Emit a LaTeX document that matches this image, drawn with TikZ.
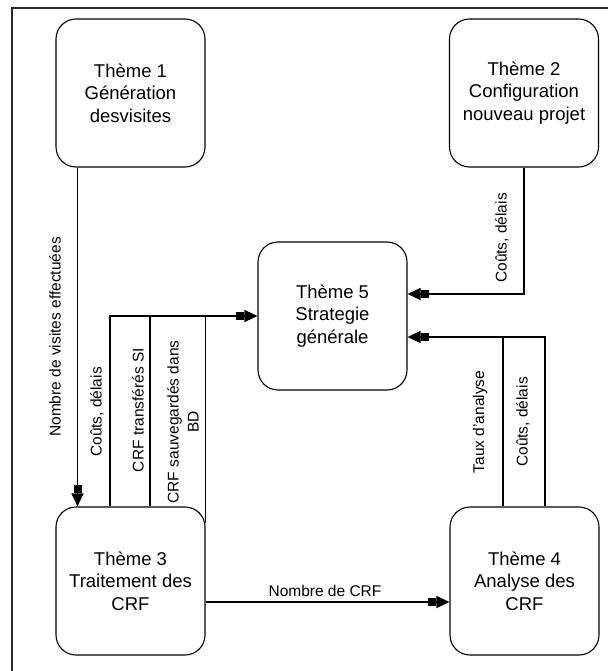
\documentclass[tikz,border=0pt]{standalone}
\usepackage{fontspec}
\setmainfont{Liberation Sans}
\usetikzlibrary{arrows.meta}
\begin{document}
\begin{tikzpicture}[x=1pt,y=-1pt,
  theme/.style={draw,line width=1.1pt,rounded corners=20pt,minimum width=149pt,minimum height=148pt,
    inner sep=0pt,align=center,font=\fontsize{18.5}{22.5}\selectfont},
  flow/.style={line width=1.1pt},
  arr/.style={flow,-{Rectangle[length=8pt,width=8pt,sep=0pt]Triangle[length=13pt,width=12pt]}},
  lbl/.style={inner sep=0pt,align=center,font=\fontsize{15.5}{20}\selectfont},
  vlbl/.style={lbl,rotate=90}]
\useasboundingbox (0,0) rectangle (608,671);
\fill[white] (0,0) rectangle (608,671);
% outer frame
\draw[line width=1.2pt,black!85] (12,671) -- (12,8) -- (608,8);

% themes
\node[theme] (t1) at (130.5,93)  {Thème 1\\Génération\\desvisites};
\node[theme] (t2) at (524,93)    {Thème 2\\Configuration\\nouveau projet};
\node[theme] (t5) at (332.5,316) {Thème 5\\Strategie\\générale};
\node[theme] (t3) at (130.5,581) {Thème 3\\Traitement des\\CRF};
\node[theme] (t4) at (524.5,581) {Thème 4\\Analyse des\\CRF};

% connector columns and rows
\coordinate (c1) at (77.5,0);
\coordinate (c2) at (110,0);
\coordinate (c3) at (150,0);
\coordinate (c5) at (503,0);
\coordinate (c6) at (545,0);
\coordinate (r1) at (0,294);
\coordinate (r2) at (0,337);
\coordinate (r3) at (0,602);
\coordinate (r4) at (0,523);

% flows
\draw[arr] (t1.south -| c1) -- (t3.north -| c1);
\draw[arr] (t2.south) |- (t5.east |- r1);
\draw[arr] (t3.north -| c2) |- (t5.west);
\draw[flow] (t3.north -| c3) -- (c3 |- t5.west);
\draw[flow] (t3.east |- r4) -- (t3.east |- t5.west);
\draw[arr] (t4.north -| c6) |- (t5.east |- r2);
\draw[flow] (t4.north -| c5) -- (c5 |- r2);
\draw[arr] (t3.east |- r3) -- (t4.west |- r3);

% flow labels
\node[vlbl] (l1) at (55,337)  {Nombre de visites effectuées};
\node[vlbl] (l2) at (502,238) {Coûts, délais};
\node[vlbl] (l3) at (97,412)  {Coûts, délais};
\node[vlbl] (l4) at (138,410) {CRF transférés SI};
\node[vlbl] (l5) at (183,422) {CRF sauvegardés dans\\BD};
\node[vlbl] (l6) at (480,422) {Taux d'analyse};
\node[vlbl] (l7) at (523,422) {Coûts, délais};
\node[lbl]  (l8) at (325,591) {Nombre de CRF};
\end{tikzpicture}
\end{document}
